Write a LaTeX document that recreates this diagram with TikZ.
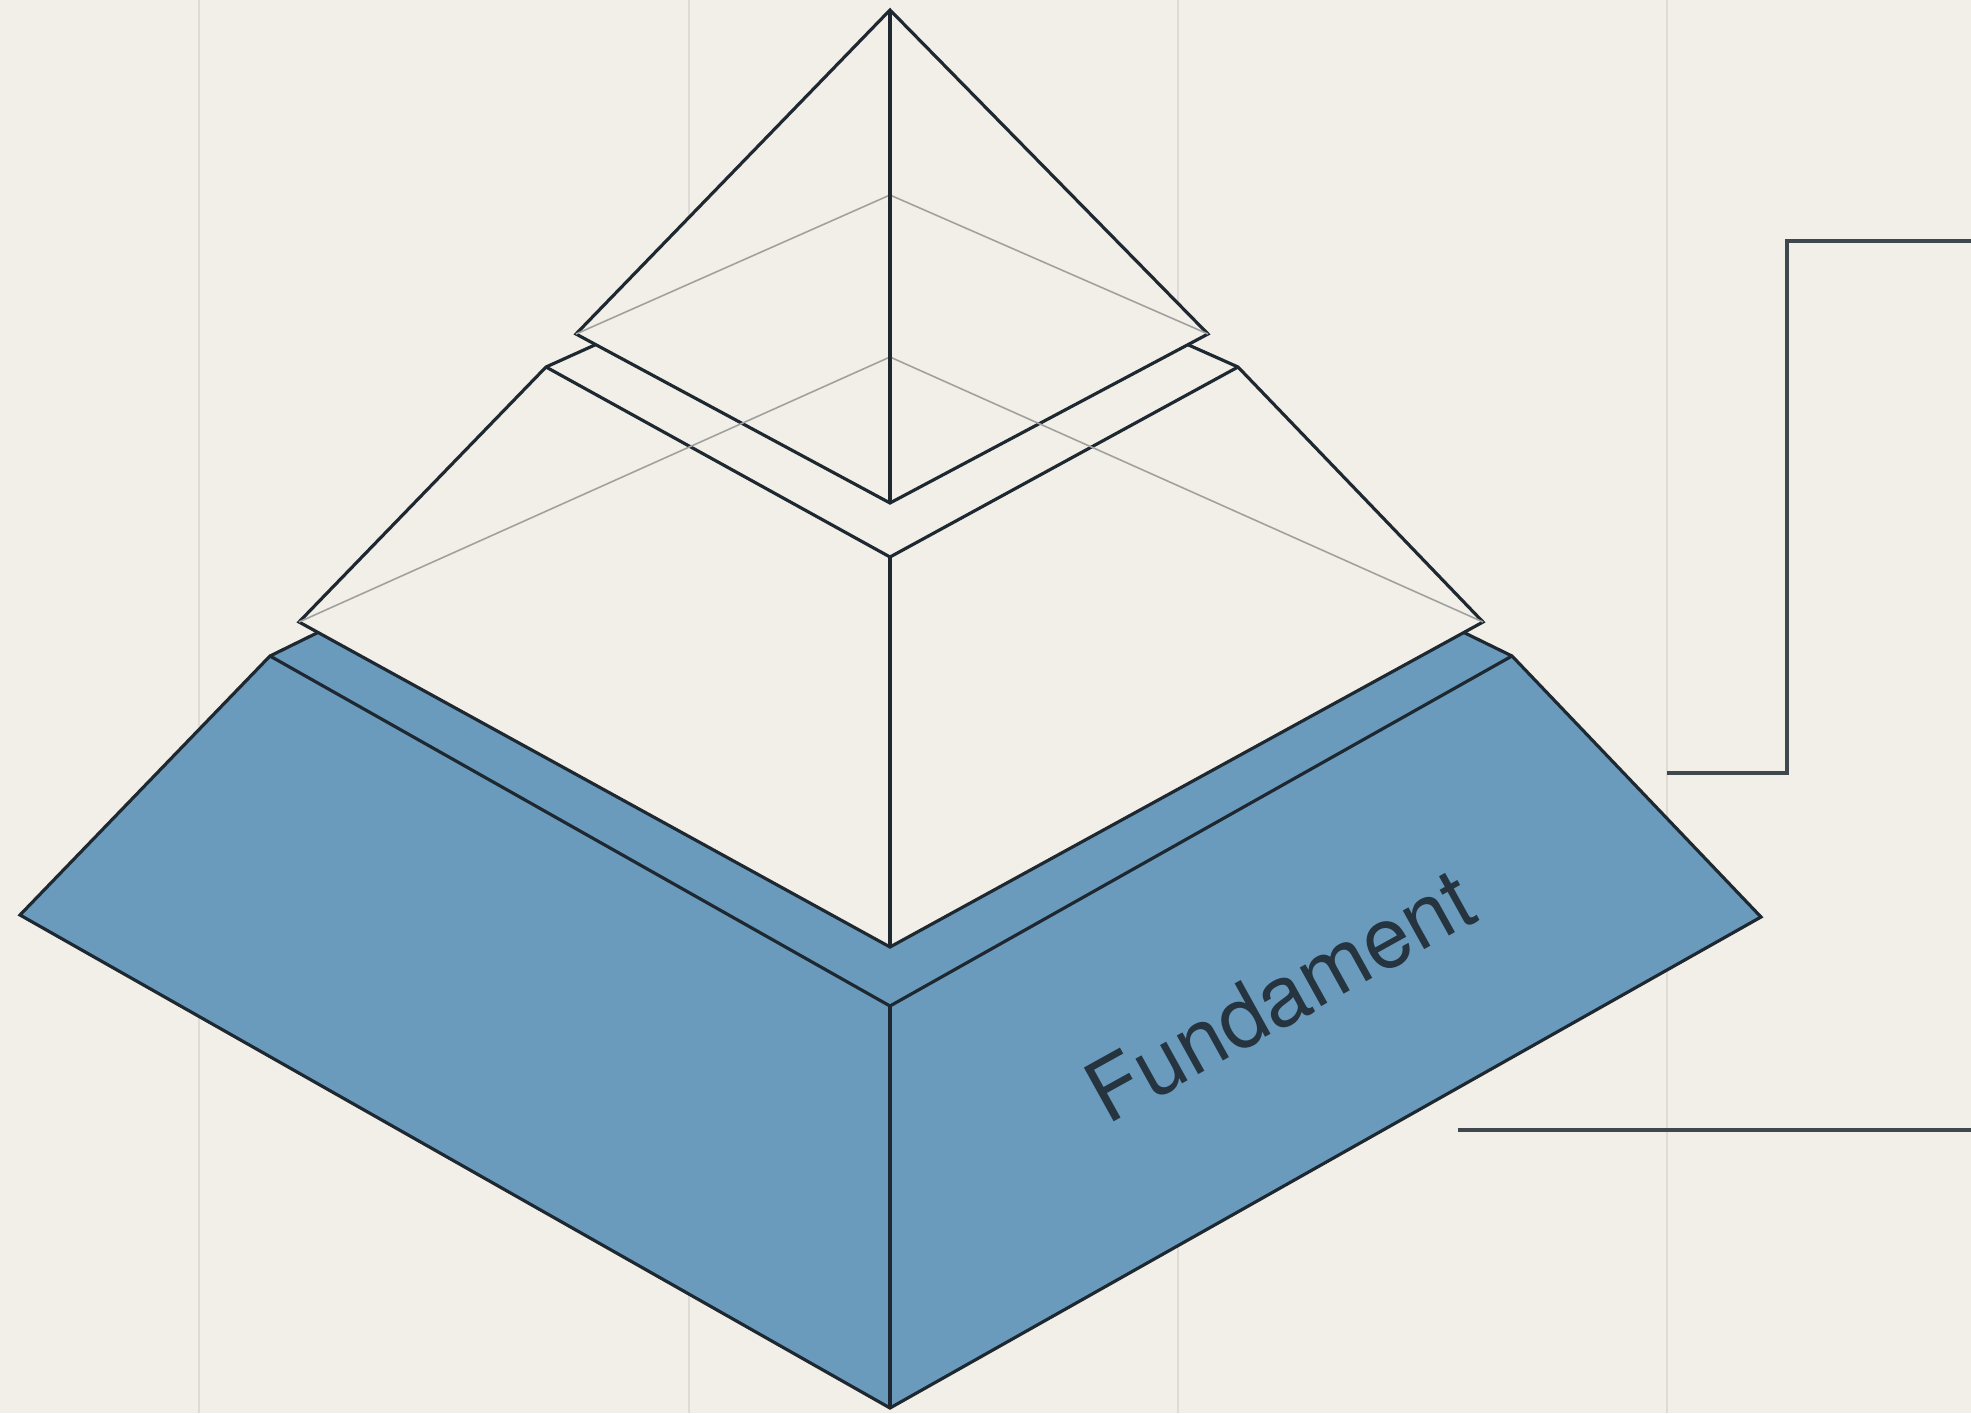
\documentclass[tikz,border=0pt]{standalone}
\usepackage[T1]{fontenc}
\usepackage{tikz}
\usetikzlibrary{calc}
\newcommand{\labelfont}{\fontfamily{phv}\selectfont}
\definecolor{paper}{RGB}{242,239,232}
\definecolor{slab}{RGB}{106,155,189}
\definecolor{ink}{RGB}{30,40,48}
\definecolor{guide}{RGB}{222,219,212}
\definecolor{hidden}{RGB}{160,160,158}

\begin{document}
\begin{tikzpicture}[
	edge/.style={draw=ink, line width=0.9pt, line join=miter},
	backline/.style={draw=hidden, line width=0.45pt},
	leader/.style={draw=ink!85, line width=1.1pt}]
	\useasboundingbox (0,0) rectangle (19.71,14.13);
	\fill[paper] (0,0) rectangle (19.71,14.13);
	\foreach \x in {1.99,6.89,11.78,16.67}
		\draw[guide, line width=0.6pt] (\x,0) -- (\x,14.13);

	% corners
	\coordinate (apex) at (8.90,14.03);
	\coordinate (tl) at (5.76,10.79);
	\coordinate (tr) at (12.08,10.79);
	\coordinate (tf) at (8.90,9.10);
	\coordinate (tg) at (8.90,12.18);

	\coordinate (ml) at (5.46,10.46);
	\coordinate (mr) at (12.38,10.46);
	\coordinate (mf) at (8.90,8.56);
	\coordinate (mb) at (8.90,12.01);
	\coordinate (mg) at (8.90,10.56);
	\coordinate (mbl) at (2.99,7.91);
	\coordinate (mbr) at (14.83,7.91);
	\coordinate (mbf) at (8.90,4.66);

	\coordinate (bl) at (2.70,7.57);
	\coordinate (br) at (15.12,7.57);
	\coordinate (bf) at (8.90,4.07);
	\coordinate (bb) at (8.90,10.61);
	\coordinate (bbl) at (0.20,4.98);
	\coordinate (bbr) at (17.61,4.96);
	\coordinate (bbf) at (8.90,0.05);

	% base
	\filldraw[fill=slab, edge] (bbl) -- (bl) -- (bb) -- (br) -- (bbr) -- (bbf) -- cycle;
	\draw[edge] (bl) -- (bf) -- (br);
	\draw[edge] (bf) -- (bbf);

	% middle
	\filldraw[fill=paper, edge] (mbl) -- (ml) -- (mb) -- (mr) -- (mbr) -- (mbf) -- cycle;
	\draw[edge] (ml) -- (mf) -- (mr);
	\draw[edge] (mf) -- (mbf);

	% top
	\filldraw[fill=paper, edge] (tl) -- (apex) -- (tr) -- (tf) -- cycle;

	\draw[backline] (mbl) -- (mg) -- (mbr);
	\draw[backline] (tl) -- (tg) -- (tr);
	\draw[edge] (apex) -- (tf);

	\node[rotate=29, text=ink!90!slab, font=\labelfont\fontsize{24}{29}\selectfont] (fundament) at (12.80,4.17) {Fundament};

	% leaders
	\coordinate (a1) at (16.67,6.40);
	\coordinate (a2) at (17.87,6.40);
	\coordinate (a3) at (17.87,11.72);
	\coordinate (a4) at (19.71,11.72);
	\draw[leader] (a1) -- (a2) -- (a3) -- (a4);
	\coordinate (b1) at (14.58,2.83);
	\coordinate (b2) at (19.71,2.83);
	\draw[leader] (b1) -- (b2);
\end{tikzpicture}
\end{document}
